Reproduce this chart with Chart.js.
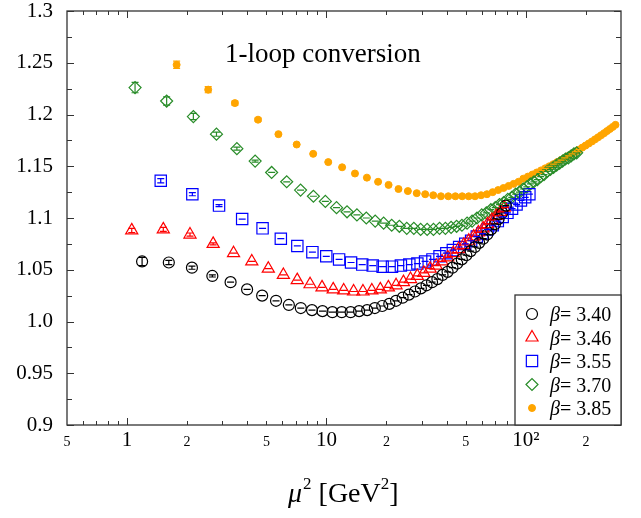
<!DOCTYPE html>
<html>
<head>
<meta charset="utf-8">
<script src="https://cdn.jsdelivr.net/npm/chart.js@4.4.1/dist/chart.umd.min.js"></script>
<style>
  body { margin: 0; background: #fff; }
</style>
</head>
<body>
<canvas id="chart-target" width="641" height="518"></canvas>
<script>
// mu^2 [GeV^2] and 1-loop converted values, one pair of arrays per beta
const mu2_340 = [1.190, 1.620, 2.116, 2.678, 3.306, 4.000, 4.760, 5.587, 6.479, 7.438, 8.463, 9.554,
    10.711, 11.934, 13.223, 14.579, 16.000, 17.488, 19.041, 20.661, 22.347, 24.099, 25.917, 27.802,
    29.752, 31.769, 33.851, 36.000, 38.215, 40.496, 42.843, 45.256, 47.736, 50.281, 52.893, 55.570,
    58.314, 61.124, 64.000, 66.942, 69.950, 73.025, 76.165, 79.372]
const z_340 = [1.058, 1.057, 1.052, 1.044, 1.038, 1.031, 1.025, 1.020, 1.016, 1.013, 1.011, 1.010,
    1.009, 1.009, 1.009, 1.010, 1.011, 1.013, 1.015, 1.017, 1.020, 1.023, 1.026, 1.029,
    1.032, 1.035, 1.038, 1.041, 1.045, 1.048, 1.052, 1.056, 1.060, 1.064, 1.068, 1.072,
    1.076, 1.080, 1.084, 1.089, 1.094, 1.099, 1.105, 1.112]
const err_340 = [0.004, 0.002, 0.0015, 0.001]

const mu2_346 = [1.056, 1.520, 2.069, 2.703, 3.421, 4.223, 5.110, 6.081, 7.137, 8.277, 9.502, 10.811,
    12.204, 13.683, 15.245, 16.892, 18.623, 20.439, 22.340, 24.324, 26.394, 28.547, 30.786, 33.108,
    35.515, 38.007, 40.583, 43.244, 45.989, 48.818, 51.732, 54.730, 57.813, 60.980, 64.232, 67.568,
    70.989, 74.494, 78.083]
const z_346 = [1.088, 1.089, 1.084, 1.075, 1.066, 1.058, 1.051, 1.045, 1.040, 1.036, 1.033, 1.031,
    1.030, 1.029, 1.029, 1.030, 1.031, 1.033, 1.035, 1.038, 1.041, 1.044, 1.047, 1.051,
    1.054, 1.058, 1.062, 1.066, 1.070, 1.074, 1.078, 1.082, 1.086, 1.090, 1.094, 1.098,
    1.102, 1.106, 1.110]
const err_346 = [0.002, 0.002, 0.0015, 0.001]

const mu2_355 = [1.476, 2.126, 2.893, 3.779, 4.783, 5.905, 7.145, 8.503, 9.979, 11.574, 13.286, 15.117,
    17.065, 19.132, 21.317, 23.620, 26.041, 28.580, 31.237, 34.012, 36.906, 39.917, 43.047, 46.294,
    49.660, 53.144, 56.746, 60.466, 64.304, 68.261, 72.335, 76.528, 80.838, 85.267, 89.814, 94.478,
    99.261, 104.162]
const z_355 = [1.136, 1.123, 1.112, 1.099, 1.090, 1.080, 1.073, 1.067, 1.063, 1.060, 1.057, 1.055,
    1.054, 1.053, 1.053, 1.054, 1.055, 1.056, 1.058, 1.060, 1.063, 1.066, 1.069, 1.072,
    1.075, 1.078, 1.082, 1.085, 1.089, 1.093, 1.097, 1.101, 1.105, 1.109, 1.113, 1.117,
    1.120, 1.123]
const err_355 = [0.002, 0.0015, 0.001]

const mu2_370 = [1.097, 1.580, 2.151, 2.809, 3.555, 4.389, 5.311, 6.320, 7.417, 8.602, 9.875, 11.236,
    12.684, 14.220, 15.844, 17.556, 19.355, 21.243, 23.218, 25.281, 27.431, 29.670, 31.996, 34.410,
    36.911, 39.501, 42.178, 44.943, 47.796, 50.737, 53.765, 56.882, 60.086, 63.378, 66.757, 70.224,
    73.779, 77.422, 81.153, 84.971, 88.878, 92.872, 96.954, 101.125, 105.381, 109.726, 114.159, 118.679,
    123.288, 127.984, 132.768, 137.640, 142.600, 147.647, 152.782, 158.005, 163.316, 168.714, 174.200, 179.774]
const z_370 = [1.226, 1.213, 1.198, 1.181, 1.167, 1.155, 1.144, 1.135, 1.127, 1.121, 1.116, 1.110,
    1.106, 1.103, 1.100, 1.097, 1.095, 1.093, 1.092, 1.090, 1.090, 1.089, 1.089, 1.089,
    1.090, 1.090, 1.091, 1.092, 1.093, 1.095, 1.097, 1.100, 1.103, 1.105, 1.108, 1.110,
    1.113, 1.115, 1.118, 1.120, 1.123, 1.125, 1.128, 1.130, 1.133, 1.135, 1.137, 1.140,
    1.142, 1.145, 1.147, 1.149, 1.151, 1.153, 1.155, 1.157, 1.158, 1.160, 1.162, 1.163]
const err_370 = [0.005, 0.004, 0.003, 0.002, 0.0015, 0.001]

const mu2_385 = [1.773, 2.553, 3.475, 4.539, 5.744, 7.092, 8.581, 10.212, 11.985, 13.900, 15.956, 18.155,
    20.495, 22.977, 25.601, 28.366, 31.274, 34.323, 37.515, 40.848, 44.322, 47.939, 51.698, 55.598,
    59.640, 63.824, 68.150, 72.618, 77.227, 81.978, 86.872, 91.907, 97.084, 102.402, 107.863, 113.465,
    119.209, 125.095, 131.123, 137.293, 143.604, 150.058, 156.653, 163.390, 170.269, 177.289, 184.452, 191.756,
    199.202, 206.790, 214.520, 222.392, 230.405, 238.560, 246.857, 255.296, 263.877, 272.600, 281.465]
const z_385 = [1.248, 1.224, 1.211, 1.195, 1.181, 1.171, 1.162, 1.154, 1.149, 1.143, 1.139, 1.135,
    1.132, 1.128, 1.126, 1.124, 1.123, 1.122, 1.121, 1.121, 1.121, 1.121, 1.121, 1.121,
    1.122, 1.123, 1.125, 1.127, 1.129, 1.131, 1.133, 1.135, 1.138, 1.140, 1.142, 1.144,
    1.146, 1.148, 1.150, 1.152, 1.154, 1.156, 1.158, 1.160, 1.162, 1.164, 1.166, 1.168,
    1.170, 1.172, 1.174, 1.176, 1.178, 1.180, 1.182, 1.184, 1.186, 1.188, 1.190]
const err_385 = [0.0035, 0.003, 0.002, 0.0015]

const betaLabels = ['3.40', '3.46', '3.55', '3.70', '3.85']

// axis ticks
const yTicks = [0.9, 0.95, 1.0, 1.05, 1.1, 1.15, 1.2, 1.25, 1.3]
const yTickLabels = ['0.9', '0.95', '1.0', '1.05', '1.1', '1.15', '1.2', '1.25', '1.3']
const yMinor = [0.925, 0.975, 1.025, 1.075, 1.125, 1.175, 1.225, 1.275]
const xTicks = [0.5, 1, 2, 5, 10, 20, 50, 100, 200]
const xTickLabels = ['5', '1', '2', '5', '10', '2', '5', '10\u00b2', '2']
const xMajor = [1, 10, 100]
const xMinor = [0.6, 0.7, 0.8, 0.9, 2, 3, 4, 5, 6, 7, 8, 9, 20, 30, 40, 50, 60, 70, 80, 90, 200]

const serif = "'Liberation Serif', 'DejaVu Serif', serif"

function points(xs, ys) {
    return xs.map((x, i) => ({ x: x, y: ys[i] }))
}

const decorations = {
    id: 'decorations',
    afterDatasetsDraw(chart) {
        // error bars (caps drawn even when the bar is shorter than the symbol)
        const ctx = chart.ctx
        const a = chart.chartArea
        const xs = chart.scales.x
        const ys = chart.scales.y
        ctx.save()
        ctx.beginPath()
        ctx.rect(a.left, a.top, a.right - a.left, a.bottom - a.top)
        ctx.clip()
        chart.data.datasets.forEach((ds) => {
            ctx.strokeStyle = ds.borderColor
            ctx.lineWidth = 1.2
            ds.data.forEach((p, i) => {
                const e = ds.errors[i] || 0
                const x = xs.getPixelForValue(p.x)
                const y1 = ys.getPixelForValue(p.y - e)
                const y2 = ys.getPixelForValue(p.y + e)
                ctx.beginPath()
                ctx.moveTo(x, y1)
                ctx.lineTo(x, y2)
                ctx.moveTo(x - 3.5, y1)
                ctx.lineTo(x + 3.5, y1)
                ctx.moveTo(x - 3.5, y2)
                ctx.lineTo(x + 3.5, y2)
                ctx.stroke()
            })
        })
        ctx.restore()
    },
    afterDraw(chart) {
        const ctx = chart.ctx
        const a = chart.chartArea
        const xs = chart.scales.x
        const ys = chart.scales.y
        ctx.save()

        // frame
        ctx.strokeStyle = '#333'
        ctx.lineWidth = 1.3
        ctx.strokeRect(a.left, a.top, a.right - a.left, a.bottom - a.top)

        // inward ticks on all four sides
        ctx.lineWidth = 1
        ctx.beginPath()
        yTicks.concat(yMinor).forEach((v) => {
            const y = Math.round(ys.getPixelForValue(v)) + 0.5
            const len = yTicks.includes(v) ? 7 : 5
            ctx.moveTo(a.left, y); ctx.lineTo(a.left + len, y)
            ctx.moveTo(a.right, y); ctx.lineTo(a.right - len, y)
        })
        xMajor.concat(xMinor).forEach((v) => {
            const x = Math.round(xs.getPixelForValue(v)) + 0.5
            const len = xMajor.includes(v) ? 7 : 4
            ctx.moveTo(x, a.bottom); ctx.lineTo(x, a.bottom - len)
            ctx.moveTo(x, a.top); ctx.lineTo(x, a.top + len)
        })
        ctx.stroke()

        // x tick labels, baseline aligned, small print for the 2's and 5's
        ctx.fillStyle = '#000'
        ctx.textAlign = 'center'
        ctx.textBaseline = 'alphabetic'
        xTicks.forEach((v, i) => {
            const big = xMajor.includes(v)
            ctx.font = (big ? 21 : 14) + 'px ' + serif
            ctx.fillText(xTickLabels[i], xs.getPixelForValue(v), a.bottom + 21)
        })

        // x axis title: mu^2 [GeV^2]
        let tx = a.left + 221
        const ty = a.bottom + 77
        ctx.textAlign = 'left'
        ctx.font = 'italic 28px ' + serif
        ctx.fillText('\u03bc', tx, ty)
        tx += ctx.measureText('\u03bc').width + 1
        ctx.font = '17px ' + serif
        ctx.fillText('2', tx, ty - 13)
        tx += ctx.measureText('2').width
        ctx.font = '28px ' + serif
        ctx.fillText(' [GeV', tx, ty)
        tx += ctx.measureText(' [GeV').width
        ctx.font = '17px ' + serif
        ctx.fillText('2', tx, ty - 13)
        tx += ctx.measureText('2').width
        ctx.font = '28px ' + serif
        ctx.fillText(']', tx, ty)

        // panel title
        ctx.font = '27px ' + serif
        ctx.fillText('1-loop conversion', a.left + 158, a.top + 51)

        // legend box in the lower right corner
        const lx = a.right - 106
        const ly = a.bottom - 130
        ctx.fillStyle = '#fff'
        ctx.fillRect(lx, ly, a.right - lx, a.bottom - ly)
        ctx.strokeStyle = '#333'
        ctx.lineWidth = 1.3
        ctx.strokeRect(lx, ly, a.right - lx, a.bottom - ly)
        chart.data.datasets.forEach((ds, i) => {
            const cy = ly + 19 + i * 23.5
            ctx.strokeStyle = ds.borderColor
            ctx.fillStyle = ds.backgroundColor
            ctx.lineWidth = ds.borderWidth
            Chart.helpers.drawPoint(ctx, {
                pointStyle: ds.pointStyle, rotation: 0,
                radius: ds.pointRadius, borderWidth: ds.borderWidth,
            }, lx + 17, cy)
            ctx.fillStyle = '#000'
            ctx.font = 'italic 20px ' + serif
            ctx.fillText('\u03b2', lx + 35, cy + 7)
            const bw = ctx.measureText('\u03b2').width
            ctx.font = '20px ' + serif
            ctx.fillText('= ' + betaLabels[i], lx + 35 + bw, cy + 7)
        })

        ctx.restore()
    },
}

window.onload = () => {
    const target = document.getElementById('chart-target')
    const chart = new Chart(target, {
        type: 'scatter',
        data: {
            datasets: [{
                data: points(mu2_340, z_340),
                errors: err_340,
                pointStyle: 'circle',
                pointRadius: 5.5,
                borderColor: '#000',
                backgroundColor: 'rgba(0,0,0,0)',
                borderWidth: 1.2,
            }, {
                data: points(mu2_346, z_346),
                errors: err_346,
                pointStyle: 'triangle',
                pointRadius: 7,
                borderColor: '#ff0000',
                backgroundColor: 'rgba(0,0,0,0)',
                borderWidth: 1.2,
            }, {
                data: points(mu2_355, z_355),
                errors: err_355,
                pointStyle: 'rect',
                pointRadius: 8,
                borderColor: '#0000ff',
                backgroundColor: 'rgba(0,0,0,0)',
                borderWidth: 1.2,
            }, {
                data: points(mu2_370, z_370),
                errors: err_370,
                pointStyle: 'rectRot',
                pointRadius: 6,
                borderColor: 'rgb(40,140,40)',
                backgroundColor: 'rgba(0,0,0,0)',
                borderWidth: 1.2,
            }, {
                data: points(mu2_385, z_385),
                errors: err_385,
                pointStyle: 'circle',
                pointRadius: 3.5,
                borderColor: 'rgb(255,165,0)',
                backgroundColor: 'rgb(255,165,0)',
                borderWidth: 1,
            }],
        },
        options: {
            responsive: false,
            animation: false,
            events: [],
            layout: { padding: { top: 11, right: 20, left: 0, bottom: 0 } },
            plugins: { legend: { display: false }, tooltip: { enabled: false } },
            scales: {
                x: {
                    type: 'logarithmic',
                    min: 0.5,
                    max: 300,
                    grid: { display: false },
                    border: { display: false },
                    ticks: { display: false },
                    afterFit: (s) => { s.height = 93 },
                },
                y: {
                    min: 0.9,
                    max: 1.3,
                    grid: { display: false, drawTicks: false },
                    border: { display: false },
                    afterBuildTicks: (s) => { s.ticks = yTicks.map((v) => ({ value: v })) },
                    ticks: {
                        padding: 14,
                        color: '#000',
                        font: { family: serif, size: 21, lineHeight: 1 },
                        callback: (v, i) => yTickLabels[i],
                    },
                    afterFit: (s) => {
                        s.width = 67
                        s.paddingTop = 0
                        s.paddingBottom = 0
                    },
                },
            },
        },
        plugins: [decorations],
    })
}
</script>
</body>
</html>
